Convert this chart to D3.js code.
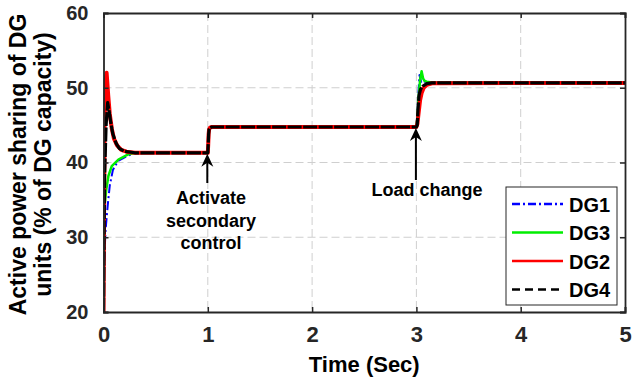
<!DOCTYPE html>
<html><head><meta charset="utf-8">
<script src="https://cdn.jsdelivr.net/npm/d3@7"></script>
<style>html,body{margin:0;padding:0;background:#fff;}svg{display:block;font-family:"Liberation Sans",Arial,sans-serif;font-weight:bold;}</style>
</head><body>
<svg id="c" width="632" height="385"></svg>
<script>
// ---- data ----
const xTicks = [0, 1, 2, 3, 4, 5];
const yTicks = [20, 30, 40, 50, 60];
const seriesNames = ["DG1", "DG3", "DG2", "DG4"];
const legendOrder = ["DG1", "DG3", "DG2", "DG4"];

const tDG1 = [0, 0.005, 0.01, 0.02, 0.04, 0.06, 0.09, 0.14, 0.23, 0.3, 0.4, 1.0, 1.004, 1.008, 1.012, 1.02, 1.04, 3.0, 3.01, 3.02, 3.03, 3.045, 3.06, 3.08, 3.12, 5];
const vDG1 = [20, 25.5, 28, 31, 34.2, 36.9, 39, 40.2, 40.9, 41.2, 41.3, 41.3, 42.4, 43.8, 44.4, 44.65, 44.75, 44.75, 46.5, 49.5, 51.7, 50.8, 51, 50.8, 50.7, 50.65];

const tDG3 = [0, 0.004, 0.012, 0.027, 0.047, 0.079, 0.143, 0.237, 0.3, 0.4, 1.0, 1.004, 1.008, 1.012, 1.02, 1.04, 3.0, 3.01, 3.02, 3.035, 3.05, 3.065, 3.08, 3.1, 3.15, 5];
const vDG3 = [20, 30, 34.5, 36.4, 38.2, 39.5, 40.4, 41.1, 41.25, 41.3, 41.3, 42.4, 43.8, 44.4, 44.65, 44.75, 44.75, 46, 48.5, 51, 52.2, 51.2, 50.9, 50.8, 50.7, 50.65];

const tDG2 = [0, 0.01, 0.02, 0.03, 0.045, 0.06, 0.08, 0.1, 0.13, 0.17, 0.22, 0.3, 1.0, 1.004, 1.008, 1.012, 1.02, 1.04, 3.0, 3.01, 3.02, 3.035, 3.05, 3.07, 3.1, 3.15, 5];
const vDG2 = [20, 45, 51, 52, 49, 46.5, 44.5, 43.2, 42.3, 41.7, 41.45, 41.3, 41.3, 42.4, 43.8, 44.4, 44.65, 44.75, 44.75, 45.2, 46.5, 48.3, 49.3, 50, 50.4, 50.6, 50.65];

const tDG4 = [0, 0.01, 0.025, 0.04, 0.055, 0.07, 0.09, 0.12, 0.15, 0.2, 0.3, 1.0, 1.004, 1.008, 1.012, 1.02, 1.04, 3.0, 3.008, 3.015, 3.025, 3.04, 3.06, 3.1, 3.15, 5];
const vDG4 = [20, 38, 45, 48, 46.8, 45.3, 43.8, 42.6, 41.9, 41.5, 41.3, 41.3, 42.4, 43.8, 44.4, 44.65, 44.75, 44.75, 45, 47, 49, 49.8, 50.2, 50.55, 50.65, 50.65];

const annotations = [
  {t: 1, to: 41.3, lines: ["Activate", "secondary", "control"]},
  {t: 3, to: 44.75, lines: ["Load change"]}
];

// ---- build ----
const series = {
  DG1: {t: tDG1, v: vDG1, color: "#0000ff", width: 2, dash: "9,3,2,3"},
  DG3: {t: tDG3, v: vDG3, color: "#00ee00", width: 2.5, dash: null},
  DG2: {t: tDG2, v: vDG2, color: "#ff0000", width: 4, dash: null},
  DG4: {t: tDG4, v: vDG4, color: "#000000", width: 3.2, dash: "14,1.5"}
};

const L = 103.5, R = 625, T = 13, B = 312;
const x = d3.scaleLinear().domain([0, 5]).range([L, R]);
const y = d3.scaleLinear().domain([20, 60]).range([B, T]);
const svg = d3.select("#c");
const ink = "#262626";

// grid
svg.append("g").selectAll("line").data(xTicks.filter(d => d > 0 && d < 5)).join("line")
  .attr("x1", d => x(d)).attr("x2", d => x(d)).attr("y1", T).attr("y2", B)
  .attr("stroke", "#cfcfcf").attr("stroke-width", 1).attr("stroke-dasharray", "8,4");
svg.append("g").selectAll("line").data(yTicks.filter(d => d > 20 && d < 60)).join("line")
  .attr("y1", d => y(d)).attr("y2", d => y(d)).attr("x1", L).attr("x2", R)
  .attr("stroke", "#cfcfcf").attr("stroke-width", 1).attr("stroke-dasharray", "8,4");

// lines
svg.append("clipPath").attr("id", "cp").append("rect")
  .attr("x", L).attr("y", T).attr("width", R - L).attr("height", B - T);
const lineGen = d3.line().x(d => x(d[0])).y(d => y(d[1]));
const gl = svg.append("g").attr("clip-path", "url(#cp)");
seriesNames.forEach(n => {
  const s = series[n];
  const pts = s.t.map((tt, i) => [tt, s.v[i]]);
  gl.append("path").datum(pts).attr("d", lineGen)
    .attr("fill", "none").attr("stroke", s.color).attr("stroke-width", s.width)
    .attr("stroke-linejoin", "round")
    .attr("stroke-dasharray", s.dash);
});

// axes
const ax = svg.append("g").attr("transform", `translate(0,${B})`)
  .call(d3.axisBottom(x).tickValues(xTicks).tickSize(-5).tickPadding(14).tickFormat(d3.format("d")));
const axT = svg.append("g").attr("transform", `translate(0,${T})`)
  .call(d3.axisTop(x).tickValues(xTicks).tickSize(-5).tickFormat(""));
const ay = svg.append("g").attr("transform", `translate(${L},0)`)
  .call(d3.axisLeft(y).tickValues(yTicks).tickSize(-5).tickPadding(14).tickFormat(d3.format("d")));
const ayR = svg.append("g").attr("transform", `translate(${R},0)`)
  .call(d3.axisRight(y).tickValues(yTicks).tickSize(-5).tickFormat(""));
[ax, axT, ay, ayR].forEach(g => {
  g.select(".domain").attr("stroke", ink).attr("stroke-width", 1.8);
  g.selectAll(".tick line").attr("stroke", ink).attr("stroke-width", 1.5);
});
ax.selectAll(".tick text").attr("fill", ink).attr("font-size", 22).attr("font-weight", "bold")
  .attr("font-family", "Liberation Sans, Arial, sans-serif");
ay.selectAll(".tick text").attr("fill", ink).attr("font-size", 20).attr("font-weight", "bold")
  .attr("font-family", "Liberation Sans, Arial, sans-serif").attr("dx", "-1");

// axis labels
svg.append("text").attr("x", (L + R) / 2).attr("y", 372).attr("text-anchor", "middle")
  .attr("font-size", 22).attr("fill", "#000").text("Time (Sec)");
const ylab = svg.append("text").attr("transform", `translate(26,${(T + B) / 2 + 2}) rotate(-90)`)
  .attr("text-anchor", "middle").attr("font-size", 23).attr("fill", "#000");
ylab.append("tspan").attr("x", 0).attr("dy", 0).text("Active power sharing of DG");
ylab.append("tspan").attr("x", 0).attr("dy", 25).text("units (% of DG capacity)");

// annotations (arrows + text)
annotations.forEach((a, k) => {
  const ax0 = x(a.t) - 0.5;
  const tipY = y(a.to) + 1;
  const tailY = k === 0 ? 183 : 180;
  svg.append("line").attr("x1", ax0).attr("x2", ax0).attr("y1", tailY).attr("y2", tipY + 6)
    .attr("stroke", "#000").attr("stroke-width", 2);
  svg.append("path")
    .attr("d", `M${ax0},${tipY} L${ax0 + 6},${tipY + 13} L${ax0},${tipY + 9} L${ax0 - 6},${tipY + 13} Z`)
    .attr("fill", "#000");
  const tx = k === 0 ? 211 : 427;
  const baseY = k === 0 ? 204 : 196;
  a.lines.forEach((ln, i) => {
    svg.append("text").attr("x", tx).attr("y", baseY + i * 22.5).attr("text-anchor", "middle")
      .attr("font-size", 18).attr("fill", "#000").text(ln);
  });
});

// legend
const lg = svg.append("g");
lg.append("rect").attr("x", 506).attr("y", 187).attr("width", 111).attr("height", 118)
  .attr("fill", "#fff").attr("stroke", ink).attr("stroke-width", 1);
legendOrder.forEach((n, i) => {
  const s = series[n];
  const cy = 204 + i * 28.5;
  lg.append("line").attr("x1", 512).attr("x2", 563).attr("y1", cy).attr("y2", cy)
    .attr("stroke", s.color).attr("stroke-width", 2.5)
    .attr("stroke-dasharray", n === "DG4" ? "8,5" : (n === "DG1" ? "8,3,2,3" : null));
  lg.append("text").attr("x", 569).attr("y", cy + 7.5).attr("font-size", 20).attr("fill", "#000").text(n);
});
</script>
</body></html>
